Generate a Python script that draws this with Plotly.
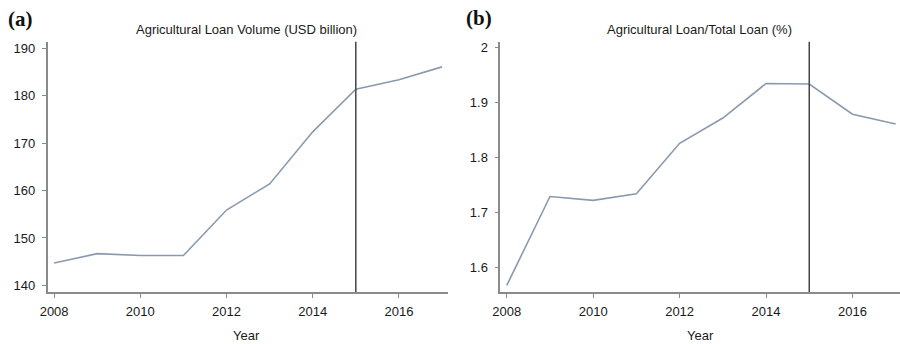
import plotly.graph_objects as go

years = [2008, 2009, 2010, 2011, 2012, 2013, 2014, 2015, 2016, 2017]
loan_volume = [144.7, 146.7, 146.3, 146.3, 155.9, 161.4, 172.4, 181.4, 183.4, 186.1]
loan_share = [1.567, 1.729, 1.722, 1.734, 1.826, 1.872, 1.935, 1.934, 1.879, 1.861]
x_ticks = [2008, 2010, 2012, 2014, 2016]
vol_ticks = [140, 150, 160, 170, 180, 190]
share_ticks = [1.6, 1.7, 1.8, 1.9, 2.0]
share_tick_text = ["1.6", "1.7", "1.8", "1.9", "2"]
event_year = 2015
title_a = "Agricultural Loan Volume (USD billion)"
title_b = "Agricultural Loan/Total Loan (%)"

line_color = "#8a9aae"
axis_color = "#8a8a8a"
font = dict(family="Liberation Sans, Arial, sans-serif", size=13, color="#1a1a1a")

fig = go.Figure()
fig.add_trace(go.Scatter(x=years, y=loan_volume, mode="lines",
                         line=dict(color=line_color, width=1.6),
                         xaxis="x", yaxis="y", showlegend=False))
fig.add_trace(go.Scatter(x=years, y=loan_share, mode="lines",
                         line=dict(color=line_color, width=1.6),
                         xaxis="x2", yaxis="y2", showlegend=False))

y_dom = [1 - 292.7 / 344, 1 - 41 / 344]
common_axis = dict(showgrid=False, zeroline=False, showline=True, linecolor=axis_color,
                   linewidth=1.5, ticks="outside", ticklen=4, tickcolor=axis_color,
                   tickwidth=1, tickfont=font)

fig.update_layout(
    width=900, height=344, margin=dict(l=0, r=0, t=0, b=0),
    paper_bgcolor="white", plot_bgcolor="white", font=font,
    xaxis=dict(domain=[40 / 900, 444 / 900], range=[2007.85, 2017.14],
               tickvals=x_ticks, anchor="y", ticklabelstandoff=3, **common_axis),
    yaxis=dict(domain=y_dom, range=[138.6, 191.4], tickvals=vol_ticks, anchor="x",
               ticklabelstandoff=4, **common_axis),
    xaxis2=dict(domain=[496.7 / 900, 1.0], range=[2007.85, 2017.1],
                tickvals=x_ticks, anchor="y2", ticklabelstandoff=3, **common_axis),
    yaxis2=dict(domain=y_dom, range=[1.555, 2.011], tickvals=share_ticks,
                ticktext=share_tick_text, anchor="x2", ticklabelstandoff=4, **common_axis),
)

for xr, yr in [("x", "y"), ("x2", "y2")]:
    fig.add_shape(type="line", xref=xr, yref=f"{yr} domain", x0=event_year, x1=event_year,
                  y0=0, y1=1, line=dict(color="#444444", width=1.5))

serif = dict(family="Liberation Serif, Times New Roman, serif", size=21, color="#111")
annos = [
    dict(text="<b>(a)</b>", x=-2 / 900, y=1 - 18 / 344, xanchor="left", font=serif),
    dict(text="<b>(b)</b>", x=460 / 900, y=1 - 17 / 344, xanchor="left", font=serif),
    dict(text=title_a, x=241 / 900, y=1 - 29 / 344, xanchor="center", font=font),
    dict(text=title_b, x=698 / 900, y=1 - 29 / 344, xanchor="center", font=font),
    dict(text="Year", x=241 / 900, y=1 - 336 / 344, xanchor="center", font=font),
    dict(text="Year", x=699 / 900, y=1 - 336 / 344, xanchor="center", font=font),
]
for a in annos:
    fig.add_annotation(xref="paper", yref="paper", yanchor="middle", showarrow=False, **a)

fig.write_html("out.html")
